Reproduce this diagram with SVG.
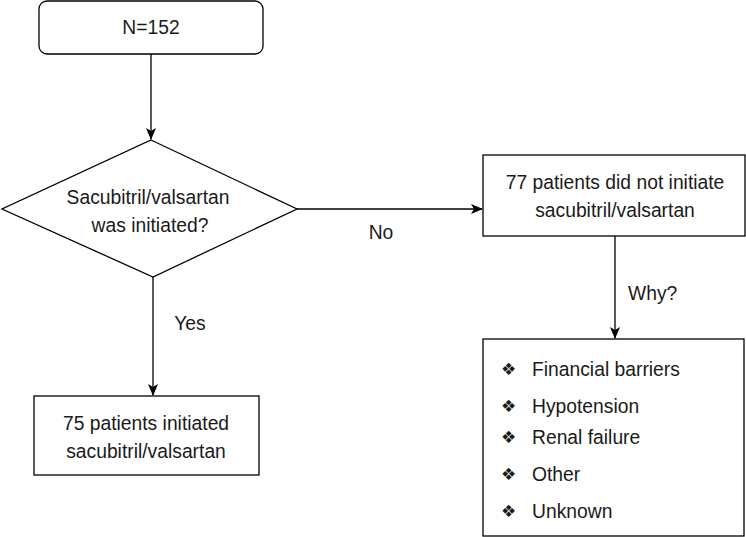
<svg xmlns="http://www.w3.org/2000/svg" width="746" height="537" viewBox="0 0 746 537">
<style>
.box{fill:#fff;stroke:#000;stroke-width:1.3}
.t{font-family:"Liberation Sans",Arial,sans-serif;font-size:19.3px;fill:#1a1a1a}
.c{text-anchor:middle}
.b{font-family:"DejaVu Sans",sans-serif;font-size:17px;fill:#1a1a1a}
.ln{stroke:#000;stroke-width:1.3;fill:none}
</style>
<defs>
<marker id="ah" viewBox="0 0 12 12" refX="11" refY="6" markerWidth="12" markerHeight="12" markerUnits="userSpaceOnUse" orient="auto">
<path d="M0,1 L12,6 L0,11 L3,6 Z" fill="#000"/>
</marker>
</defs>
<rect width="746" height="537" fill="#fff"/>
<g id="connectors">
<line class="ln" x1="151" y1="54" x2="151" y2="139" marker-end="url(#ah)"/>
<line class="ln" x1="297" y1="209" x2="482" y2="209" marker-end="url(#ah)"/>
<line class="ln" x1="153" y1="277" x2="153" y2="395" marker-end="url(#ah)"/>
<line class="ln" x1="615" y1="236" x2="615" y2="338" marker-end="url(#ah)"/>
<text class="t c" x="381" y="239">No</text>
<text class="t c" x="190" y="330">Yes</text>
<text class="t" x="628" y="300">Why?</text>
</g>
<g id="start">
<rect class="box" x="39" y="1" width="224" height="53" rx="8"/>
<text class="t c" x="151" y="34">N=152</text>
</g>
<g id="decision">
<polygon class="box" points="151,140 297,209 153,277 2,209"/>
<text class="t c" x="148" y="204">Sacubitril/valsartan</text>
<text class="t c" x="150" y="232">was initiated?</text>
</g>
<g id="no-init">
<rect class="box" x="483" y="155" width="262" height="81"/>
<text class="t c" x="615" y="189">77 patients did not initiate</text>
<text class="t c" x="615" y="217">sacubitril/valsartan</text>
</g>
<g id="init">
<rect class="box" x="34" y="396" width="225" height="79"/>
<text class="t c" x="146" y="430">75 patients initiated</text>
<text class="t c" x="146" y="458">sacubitril/valsartan</text>
</g>
<g id="reasons">
<rect class="box" x="483" y="339" width="261" height="197"/>
<text class="b" x="501" y="375">❖</text><text class="t" x="532" y="376">Financial barriers</text>
<text class="b" x="501" y="412">❖</text><text class="t" x="532" y="413">Hypotension</text>
<text class="b" x="501" y="443">❖</text><text class="t" x="532" y="444">Renal failure</text>
<text class="b" x="501" y="480">❖</text><text class="t" x="532" y="481">Other</text>
<text class="b" x="501" y="517">❖</text><text class="t" x="532" y="518">Unknown</text>
</g>
</svg>
